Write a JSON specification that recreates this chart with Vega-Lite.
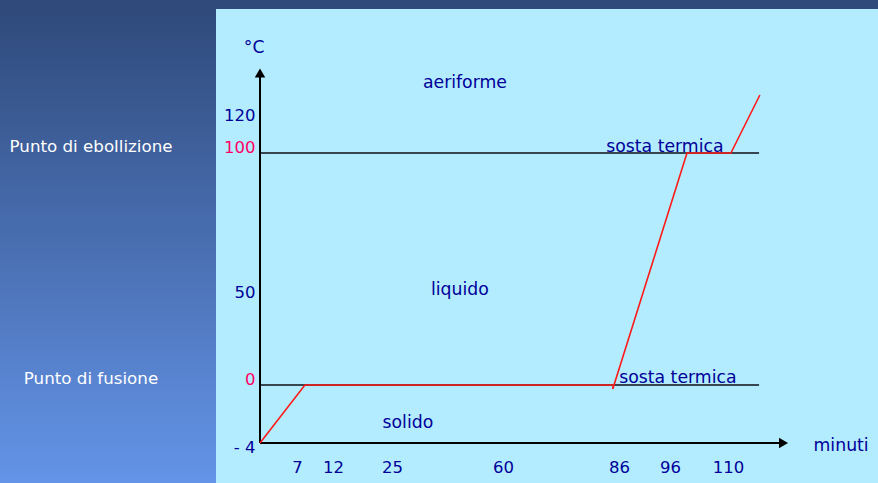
{
  "$schema": "https://vega.github.io/schema/vega-lite/v6.json",
  "background": "#2f4a7b",
  "padding": {"left": 0, "top": 9, "right": 0, "bottom": 0},
  "spacing": 0,
  "config": {"view": {"stroke": null}, "font": "DejaVu Sans", "concat": {"spacing": 0}},
  "hconcat": [
    {
      "width": 216,
      "height": 474,
      "view": {"fill": {"gradient": "linear", "x1": 0, "y1": 0, "x2": 0, "y2": 1, "stops": [{"offset": 0, "color": "#2f4a7b"}, {"offset": 1, "color": "#6494e8"}]}, "stroke": null},
      "data": {"values": [{"label": "Punto di ebollizione", "y": 100}, {"label": "Punto di fusione", "y": 0}]},
      "mark": {"type": "text", "color": "white", "fontSize": 16.7, "dx": -17, "dy": -6},
      "encoding": {
        "y": {"field": "y", "type": "quantitative", "scale": {"domain": [-4, 0, 50, 100, 120], "range": [434, 376, 289, 144, 112], "nice": false, "zero": false}, "axis": null},
        "text": {"field": "label", "type": "nominal"}
      }
    },
    {
      "width": 662,
      "height": 474,
      "view": {"fill": "#b3ecfe", "stroke": null},
      "encoding": {
        "x": {"field": "x", "type": "quantitative",
          "scale": {"domain": [0, 7, 12, 25, 60, 86, 96, 110], "range": [44, 81, 117, 176, 287, 403, 454, 512], "nice": false, "zero": false},
          "axis": {"orient": "bottom", "values": [7, 12, 25, 60, 86, 96, 110], "domain": false, "ticks": false, "tickSize": 0, "grid": false, "title": null, "labelPadding": 0, "offset": -16, "labelBaseline": "middle", "labelFlush": false, "labelOverlap": false, "labelColor": "#000099", "labelFontSize": 16.5, "labelFont": "DejaVu Sans"}},
        "y": {"field": "y", "type": "quantitative",
          "scale": {"domain": [-4, 0, 50, 100, 120], "range": [434, 376, 289, 144, 112], "nice": false, "zero": false},
          "axis": {"orient": "left", "values": [-4, 0, 50, 100, 120], "domain": false, "ticks": false, "tickSize": 0, "grid": false, "title": null, "labelPadding": 0, "offset": -39, "labelAlign": "right", "labelBaseline": "middle", "labelFlush": false, "labelOverlap": false, "labelFontSize": 16.5, "labelFont": "DejaVu Sans",
            "labelExpr": "datum.value == -4 ? '- 4' : datum.label",
            "labelOffset": {"condition": {"test": "datum.value == -4", "value": 4}, "value": -6},
            "labelColor": {"condition": {"test": "datum.value == 0 || datum.value == 100", "value": "#ff0066"}, "value": "#000099"}}}
      },
      "layer": [
        {
          "data": {"values": [{"x": 0, "x2": 117.5, "y": 100}, {"x": 0, "x2": 117.5, "y": 0}]},
          "mark": {"type": "rule", "color": "#37474f", "strokeWidth": 2},
          "encoding": {"x2": {"field": "x2"}}
        },
        {
          "data": {"values": [{"x": 0, "x2": 0, "y": -4, "y2": 150}, {"x": 0, "x2": 123, "y": -4, "y2": -4}]},
          "mark": {"type": "rule", "color": "black", "strokeWidth": 2},
          "encoding": {"x2": {"field": "x2"}, "y2": {"field": "y2"}}
        },
        {
          "data": {"values": [{"x": 0, "y": 150}]},
          "mark": {"type": "point", "shape": "triangle-up", "filled": true, "color": "black", "size": 110, "opacity": 1}
        },
        {
          "data": {"values": [{"x": 123.4, "y": -4}]},
          "mark": {"type": "point", "shape": "triangle-right", "filled": true, "color": "black", "size": 110, "opacity": 1}
        },
        {
          "data": {"values": [
            {"x": 0, "y": -4, "o": 1},
            {"x": 8.1, "y": 0, "o": 2},
            {"x": 84.7, "y": 0, "o": 3},
            {"x": 84.6, "y": -0.28, "o": 4},
            {"x": 100.1, "y": 100, "o": 5},
            {"x": 110.7, "y": 100, "o": 6},
            {"x": 117.7, "y": 136.25, "o": 7}
          ]},
          "mark": {"type": "line", "color": "#ff1a1a", "strokeWidth": 1.6},
          "encoding": {"order": {"field": "o", "type": "quantitative"}}
        },
        {
          "data": {"values": [
            {"label": "°C", "x": -1.1, "y": 165.6},
            {"label": "aeriforme", "x": 48.0, "y": 143.75},
            {"label": "liquido", "x": 46.4, "y": 52.8},
            {"label": "solido", "x": 30.0, "y": -2.62},
            {"label": "sosta termica", "x": 95.0, "y": 103.75},
            {"label": "sosta termica", "x": 97.9, "y": 4.0},
            {"label": "minuti", "x": 137.3, "y": -4.2}
          ]},
          "mark": {"type": "text", "color": "#000099", "fontSize": 17.3, "baseline": "middle", "align": "center"},
          "encoding": {"text": {"field": "label", "type": "nominal"}}
        }
      ]
    }
  ]
}
